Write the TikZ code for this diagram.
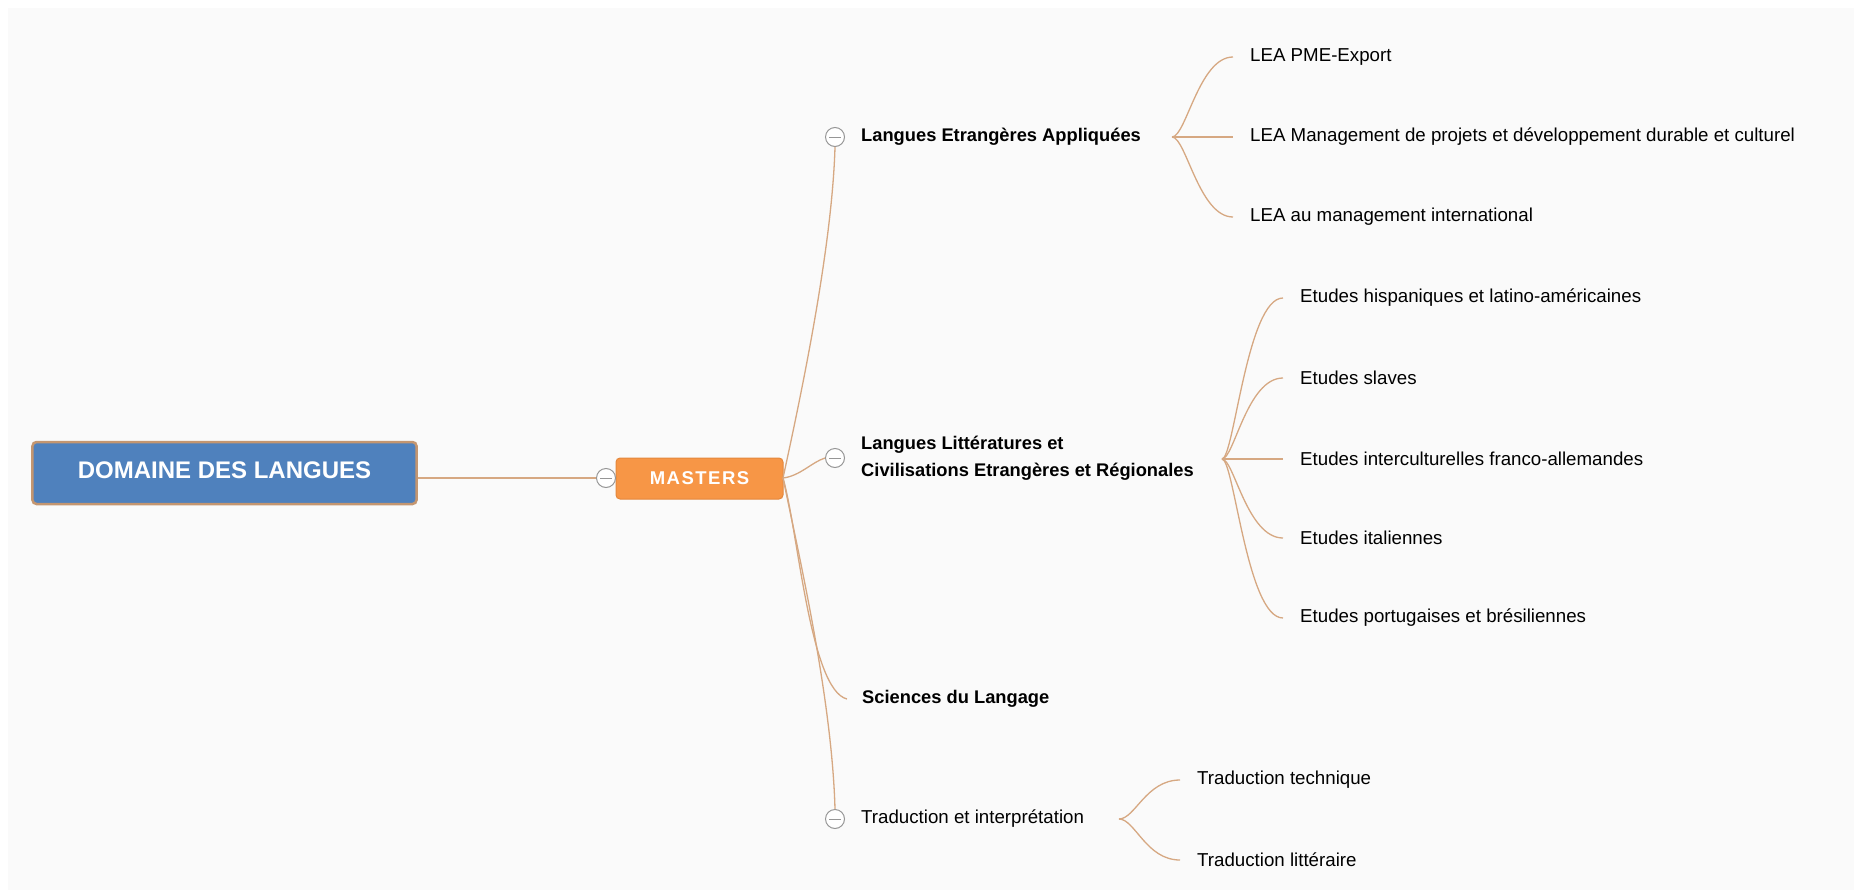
\documentclass[tikz,border=0pt]{standalone}
\usepackage{fontspec}
\setmainfont{Liberation Sans}
\definecolor{bgc}{RGB}{250,250,250}
\definecolor{linec}{RGB}{214,168,130}
\definecolor{bluebox}{RGB}{79,129,189}
\definecolor{blueedge}{RGB}{196,150,112}
\definecolor{orangebox}{RGB}{247,150,70}
\definecolor{orangeedge}{RGB}{228,135,60}
\definecolor{circc}{RGB}{150,150,150}
\begin{document}
\begin{tikzpicture}[x=1bp,y=-1bp,
  conn/.style={draw=linec,line width=1.3bp},
  ctl/.style={circle,draw=circc,fill=white,line width=1bp,minimum size=19bp,inner sep=0pt,
    path picture={\draw[circc,line width=1bp] ([xshift=-6bp]path picture bounding box.center) -- ([xshift=6bp]path picture bounding box.center);}},
  lvlone/.style={anchor=west,inner sep=0pt,font=\fontsize{18.3bp}{27bp}\selectfont\bfseries,align=left},
  lvltwo/.style={anchor=west,inner sep=0pt,font=\fontsize{18.7bp}{22bp}\selectfont},
  lvlonereg/.style={anchor=west,inner sep=0pt,font=\fontsize{18.7bp}{22bp}\selectfont}
]
\useasboundingbox (0,0) rectangle (1854,890);
\fill[white] (0,0) rectangle (1854,890);
\fill[bgc] (8,8) rectangle (1854,890);

% root
\node[draw=blueedge,line width=2.5bp,fill=bluebox,rounded corners=4bp,minimum width=384bp,minimum height=62bp,inner sep=0pt,
  text=white,font=\fontsize{24bp}{28bp}\selectfont\bfseries] (root) at (224.5,473) {\raisebox{5bp}{DOMAINE DES LANGUES}};
\node[draw=orangeedge,line width=1bp,fill=orangebox,rounded corners=4bp,minimum width=167bp,minimum height=41bp,inner sep=0pt,
  text=white,font=\fontsize{18.5bp}{22bp}\selectfont\bfseries] (masters) at (699.5,478.5) {M\hspace{1.5bp}A\hspace{1.5bp}S\hspace{1.5bp}T\hspace{1.5bp}E\hspace{1.5bp}R\hspace{1.5bp}S};
\node[ctl] (c0) at (606,478) {};
\coordinate (mr) at (783,478);
\draw[conn] (root.east |- c0) -- (c0);

% level 1
\node[ctl] (c1) at (835,137) {};
\node[lvlone] (lea) at (861,137) {Langues Etrangères Appliquées};
\node[ctl] (c2) at (835,458) {};
\node[lvlone] (llcer) at (861,458) {Langues Littératures et\\Civilisations Etrangères et Régionales};
\coordinate (sc) at (847,699);
\node[lvlone] (sci) at (862,699) {Sciences du Langage};
\node[ctl] (c4) at (835,819) {};
\node[lvlonereg] (trad) at (861,819) {Traduction et interprétation};

\draw[conn] (mr) .. controls (800,400) and (832,250) .. (c1.south);
\draw[conn] (mr) .. controls (800,476) and (812,462) .. (c2.west);
\draw[conn] (mr) .. controls (798,530) and (810,690) .. (sc);
\draw[conn] (mr) .. controls (800,560) and (832,700) .. (c4.north);

% LEA children
\coordinate (f1) at (1172,137);
\coordinate (e11) at (1233,57);
\coordinate (e12) at (1233,137);
\coordinate (e13) at (1233,217);
\node[lvltwo] (lea1) at (1250,57) {LEA PME-Export};
\node[lvltwo] (lea2) at (1250,137) {LEA Management de projets et développement durable et culturel};
\node[lvltwo] (lea3) at (1250,217) {LEA au management international};
\draw[conn] (f1) .. controls +(14,0) and +(-34,0) .. (e11);
\draw[conn] (f1) -- (e12);
\draw[conn] (f1) .. controls +(14,0) and +(-34,0) .. (e13);

% LLCER children
\coordinate (f2) at (1222,459);
\coordinate (e21) at (1283,298);
\coordinate (e22) at (1283,378);
\coordinate (e23) at (1283,459);
\coordinate (e24) at (1283,538);
\coordinate (e25) at (1283,618);
\node[lvltwo] (ll1) at (1300,298) {Etudes hispaniques et latino-américaines};
\node[lvltwo] (ll2) at (1300,378) {Etudes slaves};
\node[lvltwo] (ll3) at (1300,459) {Etudes interculturelles franco-allemandes};
\node[lvltwo] (ll4) at (1300,538) {Etudes italiennes};
\node[lvltwo] (ll5) at (1300,618) {Etudes portugaises et brésiliennes};
\draw[conn] (f2) .. controls +(12,0) and +(-36,0) .. (e21);
\draw[conn] (f2) .. controls +(12,0) and +(-36,0) .. (e22);
\draw[conn] (f2) -- (e23);
\draw[conn] (f2) .. controls +(12,0) and +(-36,0) .. (e24);
\draw[conn] (f2) .. controls +(12,0) and +(-36,0) .. (e25);

% Traduction children
\coordinate (f3) at (1119,819);
\coordinate (e31) at (1180,780);
\coordinate (e32) at (1180,860);
\node[lvltwo] (tr1) at (1197,780) {Traduction technique};
\node[lvltwo] (tr2) at (1197,860) {Traduction littéraire};
\draw[conn] (f3) .. controls +(16,0) and +(-34,0) .. (e31);
\draw[conn] (f3) .. controls +(16,0) and +(-34,0) .. (e32);
\end{tikzpicture}
\end{document}
